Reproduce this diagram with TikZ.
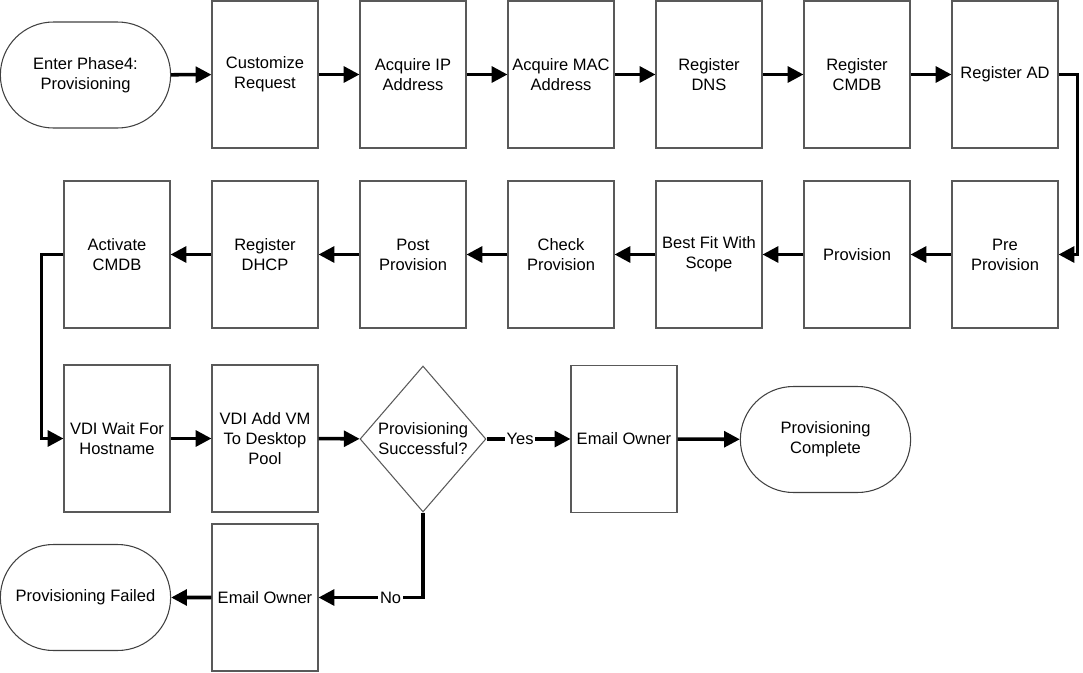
\documentclass[tikz,border=0pt]{standalone}
\usepackage{fontspec}
\setmainfont{Liberation Sans}
\usetikzlibrary{shapes.misc,shapes.geometric,arrows.meta}
\tikzset{
  proc/.style={draw=black!65, line width=0.6pt, rectangle, minimum width=2.12cm, minimum height=2.94cm, align=center, inner sep=1pt},
  term/.style={draw=black!75, line width=0.6pt, rounded rectangle, minimum width=3.64cm, minimum height=2.12cm, align=center},
  decide/.style={draw=black!65, line width=0.6pt, diamond, minimum width=2.52cm, minimum height=2.92cm, align=center, inner sep=0pt},
  flow/.style={line width=2pt, -{Triangle[length=9pt,width=9pt]}},
  lbl/.style={fill=white, inner sep=1pt}
}
\begin{document}
\begin{tikzpicture}[x=0.02cm, y=-0.02cm, font=\fontsize{9.4}{11.3}\selectfont]
    \useasboundingbox (0,0) rectangle (1083,673);
    % first row
    \node[term] (enter) at (85.5,75) {Enter Phase4:\\Provisioning};
    \node[proc] (cust) at (265,74.5) {Customize\\Request};
    \node[proc] (ip) at (413,74.5) {Acquire IP\\Address};
    \node[proc] (mac) at (561,74.5) {Acquire MAC\\Address};
    \node[proc] (dns) at (709,74.5) {Register\\DNS};
    \node[proc] (cmdb) at (857,74.5) {Register\\CMDB};
    \node[proc] (ad) at (1005,74.5) {Register AD};
    % second row
    \node[proc] (pre) at (1005,254.5) {Pre\\Provision};
    \node[proc] (prov) at (857,254.5) {Provision};
    \node[proc] (fit) at (709,254.5) {Best Fit With\\Scope};
    \node[proc] (check) at (561,254.5) {Check\\Provision};
    \node[proc] (post) at (413,254.5) {Post\\Provision};
    \node[proc] (dhcp) at (265,254.5) {Register\\DHCP};
    \node[proc] (act) at (117,254.5) {Activate\\CMDB};
    % third row
    \node[proc] (wait) at (117,438.5) {VDI Wait For\\Hostname};
    \node[proc] (pool) at (265,438.5) {VDI Add VM\\To Desktop\\Pool};
    \node[decide] (ok) at (423,439) {Provisioning\\Successful?};
    \node[proc] (mailok) at (624,439) {Email Owner};
    \node[term] (done) at (825.5,439.5) {Provisioning\\Complete};
    % fourth row
    \node[proc] (mailno) at (265,597.5) {Email Owner};
    \node[term] (fail) at (85.5,597.5) {Provisioning Failed};

    \draw[flow] (enter) -- (cust);
    \draw[flow] (cust) -- (ip);
    \draw[flow] (ip) -- (mac);
    \draw[flow] (mac) -- (dns);
    \draw[flow] (dns) -- (cmdb);
    \draw[flow] (cmdb) -- (ad);
    \draw[flow] (ad.east) -- ++(19,0) |- (pre.east);
    \draw[flow] (pre) -- (prov);
    \draw[flow] (prov) -- (fit);
    \draw[flow] (fit) -- (check);
    \draw[flow] (check) -- (post);
    \draw[flow] (post) -- (dhcp);
    \draw[flow] (dhcp) -- (act);
    \draw[flow] (act.west) -- ++(-22,0) |- (wait.west);
    \draw[flow] (wait) -- (pool);
    \draw[flow] (pool) -- (ok);
    \draw[flow] (ok) -- node[lbl, pos=0.4] {Yes} (mailok);
    \draw[flow] (mailok) -- (done);
    \draw[flow] (ok.south) |- node[lbl, pos=0.655] {No} (mailno.east);
    \draw[flow] (mailno) -- (fail);
\end{tikzpicture}
\end{document}
